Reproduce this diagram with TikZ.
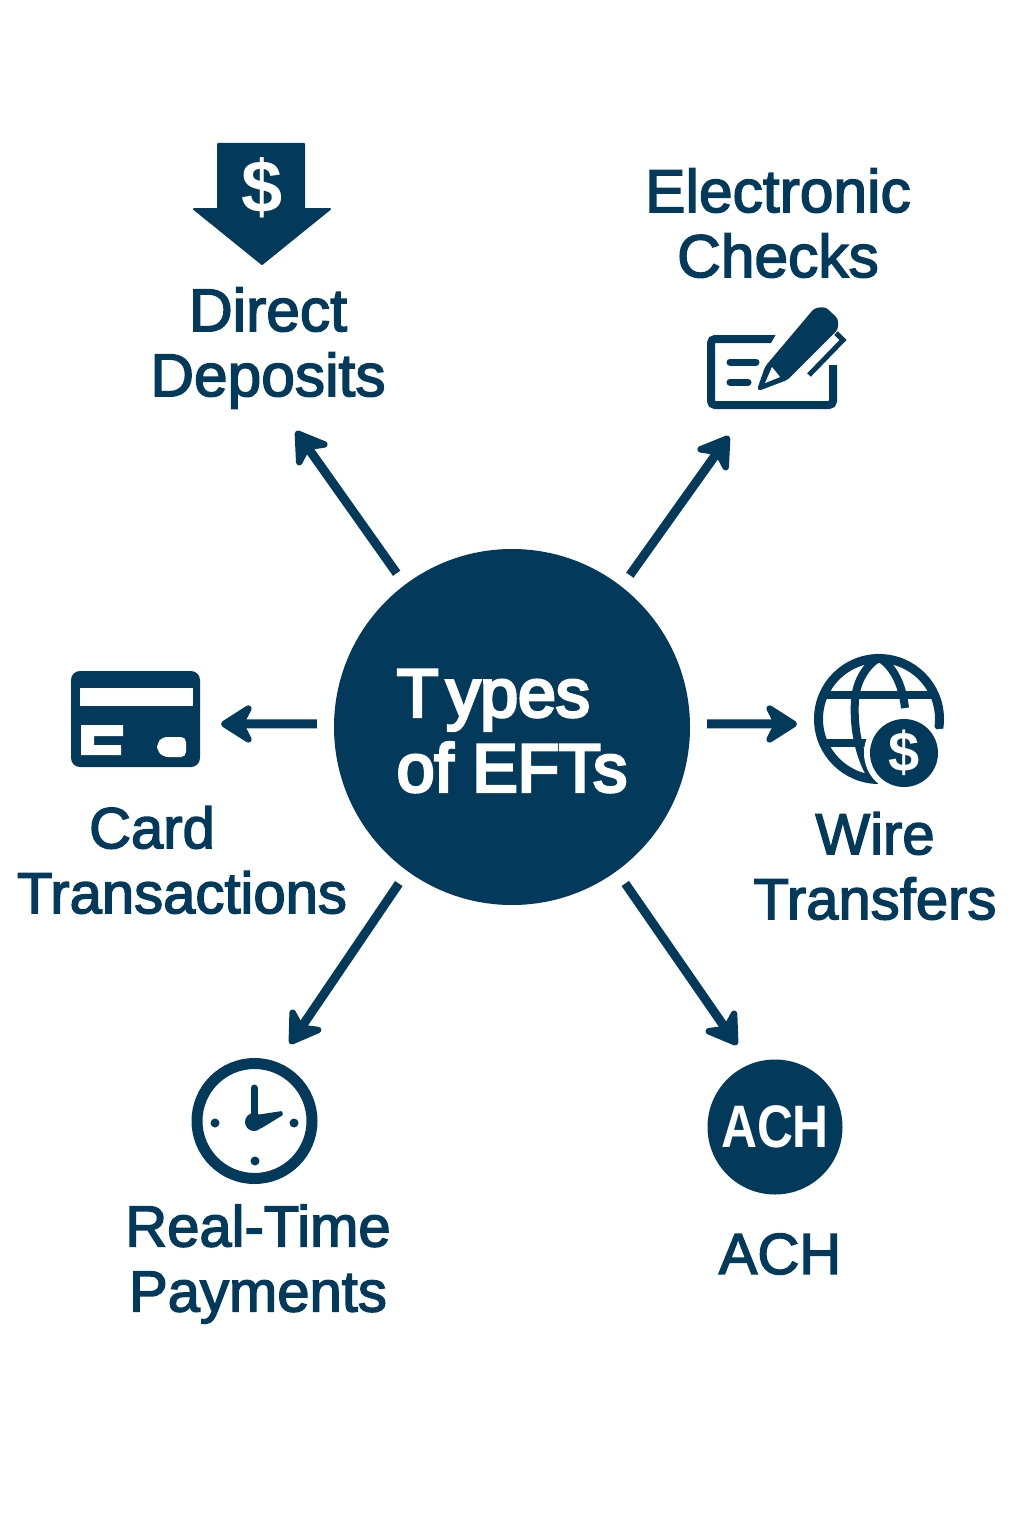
\documentclass[tikz,border=0pt]{standalone}
\usepackage{fontspec}
\setmainfont{Liberation Sans}[FakeBold=2.5]
\newfontfamily\boldface{Liberation Sans}[FakeBold=4.5]
\newfontfamily\signface{Liberation Sans Bold}
\usetikzlibrary{arrows.meta}
\definecolor{navy}{HTML}{033A5B}
\tikzset{
    caption/.style={text=navy, align=center, font=\fontsize{58}{65}\selectfont, inner sep=0pt},
    captionwide/.style={caption, font=\fontsize{60.5}{65}\selectfont},
    link/.style={draw=navy, line width=9pt, -{Stealth[length=38pt, width=48pt, inset=12pt, round]}},
    icon/.style={fill=navy, draw=navy, line join=round, line width=2pt},
    dollar/.style={text=white, inner sep=0pt, font=\signface\fontsize{#1}{#1}\selectfont},
}

\begin{document}
\begin{tikzpicture}[x=1pt, y=-1pt]
    \useasboundingbox[fill=white] (0,0) rectangle (1024,1536);

    \node[circle, fill=navy, minimum size=356pt, inner sep=0pt] (hub) at (512,727) {};
    \node[text=white, align=left, font=\boldface\fontsize{68}{75}\selectfont, inner sep=0pt] (hubtext) at (512,731) {T\kern8pt ypes\\of EFTs};

    % ends of the arrows
    \coordinate (tipdeposit) at (296,431);
    \coordinate (tipcheck) at (729,436);
    \coordinate (tipcard) at (221,724);
    \coordinate (tipwire) at (797,724);
    \coordinate (tiprtp) at (290,1044);
    \coordinate (tipach) at (737,1045);

    \draw[link, shorten <=14pt] (hub.127.4) -- (tipdeposit);
    \draw[link, shorten <=14pt] (hub.52) -- (tipcheck);
    \draw[link, shorten <=17pt] (hub.179) -- (tipcard);
    \draw[link, shorten <=17pt] (hub.1) -- (tipwire);
    \draw[link, shorten <=15pt] (hub.234.1) -- (tiprtp);
    \draw[link, shorten <=15pt] (hub.-54.5) -- (tipach);

    \node[captionwide] (deposit) at (268,348) {Direct\\Deposits};
    \node[captionwide] (check) at (778,223) {Electronic\\Checks};
    \node[caption] (card) at (182,860) {Card\hspace*{60pt}\\Transactions};
    \node[caption] (wire) at (875,866) {Wire\\Transfers};
    \node[caption] (rtp) at (258,1264) {Real-Time\\Payments};
    \node[caption] (ach) at (780,1254) {ACH};

    % down arrow
    \fill[icon] (218,144) -- (304,144) -- (304,209) -- (330,209) -- (262,264) -- (194,209) -- (218,209) -- cycle;
    \node[dollar=74] (depositsign) at (262,188) {\$};

    % cheque
    \draw[navy, line width=8pt, rounded corners=4pt] (778,339) -- (711,339) -- (711,405) -- (833,405) -- (833,365);
    \fill[white] (778,331) -- (790,331) -- (790,345) -- (770,345) -- cycle;
    \draw[navy, line width=7pt, line cap=round] (730,362) -- (756,362);
    \draw[navy, line width=7pt, line cap=round] (730,382) -- (748,382);
    \fill[white] (762,360) -- (820,300) -- (848,322) -- (848,345) -- (795,385) -- (755,396) -- cycle;
    \fill[icon, rounded corners=3pt] (766,367) -- (815,309) -- (825,308) -- (837,319) -- (837,329) -- (787,379) -- (758,390) -- cycle;
    \fill[white] (772,367) -- (780,377) -- (765,383) -- cycle;
    \draw[navy, line width=5pt] (836,333) -- (843,340) -- (809,375);
    \draw[navy, line width=8pt] (833,365) -- (833,380);

    % card
    \fill[navy, rounded corners=9pt] (71,671) rectangle (200,767);
    \fill[white] (80,688) rectangle (193,706);
    \fill[white] (81,725) -- (123,725) -- (123,736) -- (94,736) -- (94,745) -- (121,745) -- (121,755) -- (81,755) -- cycle;
    \fill[white, rounded corners=5pt] (186,737) -- (162,737) -- (157,744) -- (157,750) -- (163,757) -- (186,757) -- cycle;

    % globe
    \begin{scope}[navy, line width=8pt]
        \draw[line width=9pt] (879,719) circle (60.5pt);
        \draw (822,695) -- (936,695);
        \draw (820,743) -- (870,743);
        \draw (880,657) .. controls (866,665) and (856,682) .. (855,700) .. controls (853,730) and (860,760) .. (874,781);
        \draw (878,657) .. controls (892,665) and (902,682) .. (905,708);
    \end{scope}
    \fill[white] (904,753) circle (40pt);
    \fill[white] (930,730) -- (950,728) -- (950,780) -- (930,780) -- cycle;
    \fill[navy] (904,753) circle (34pt);
    \node[dollar=56] (wiresign) at (904,753) {\$};

    % clock
    \draw[navy, line width=11pt] (254.5,1121) circle (57.5pt);
    \fill[navy] (215,1123) circle (4.5pt) (294,1123) circle (4.5pt) (255,1161) circle (4.5pt);
    \draw[navy, line width=7pt, line cap=round] (254,1088) -- (254,1120);
    \fill[navy] (254,1122) circle (9pt);
    \fill[navy, rounded corners=1pt] (256,1115) -- (282,1111) -- (283,1115) -- (260,1129) -- cycle;

    % ach badge
    \node[circle, fill=navy, minimum size=135pt, inner sep=0pt] (achbadge) at (775,1127) {};
    \node[dollar=60, xscale=0.83] (achsign) at (achbadge) {ACH};
\end{tikzpicture}
\end{document}
